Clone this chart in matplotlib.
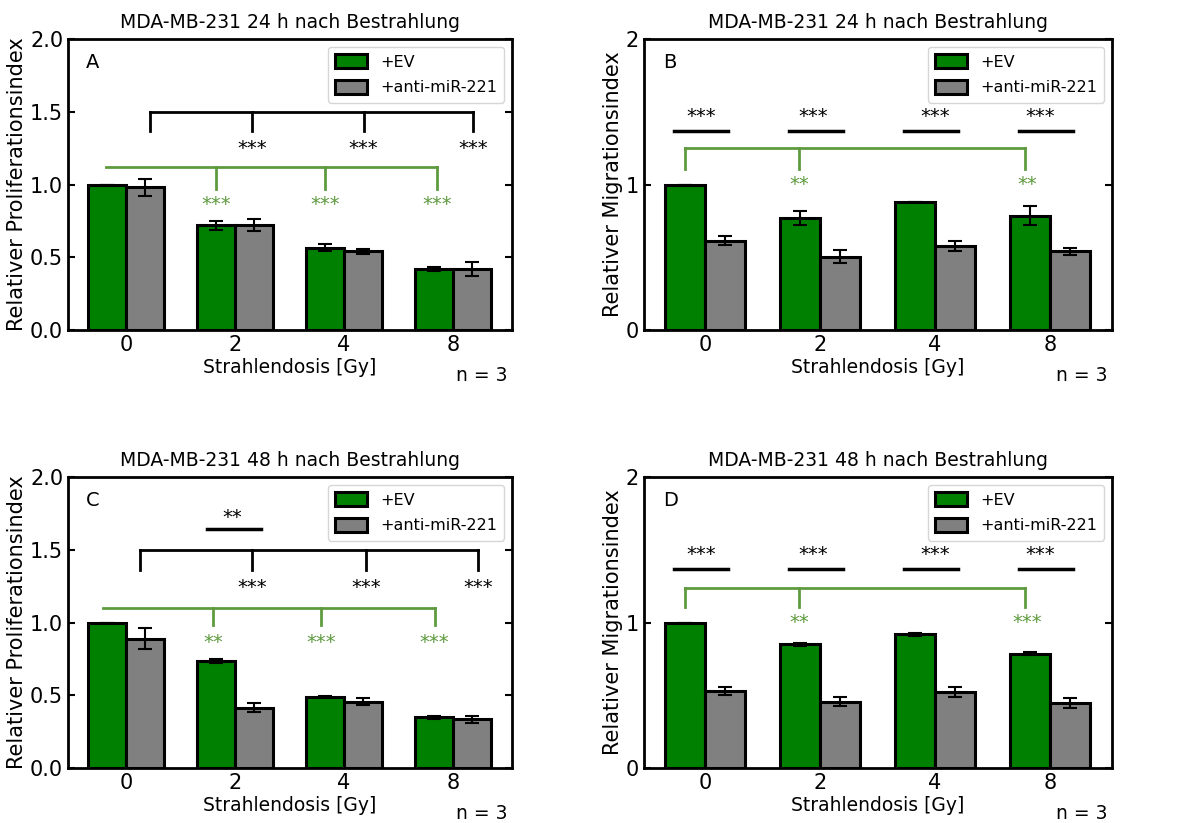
import numpy as np
import matplotlib
matplotlib.use("Agg")
import matplotlib.pyplot as plt

doses = ["0", "2", "4", "8"]

# A: Proliferation 24 h
prolif24_ev = [1.0, 0.72, 0.565, 0.42]
prolif24_ev_err = [0.0, 0.03, 0.025, 0.012]
prolif24_anti = [0.98, 0.72, 0.54, 0.42]
prolif24_anti_err = [0.06, 0.04, 0.015, 0.05]

# B: Migration 24 h
migr24_ev = [1.0, 0.77, 0.88, 0.785]
migr24_ev_err = [0.0, 0.045, 0.003, 0.065]
migr24_anti = [0.615, 0.505, 0.575, 0.54]
migr24_anti_err = [0.03, 0.045, 0.035, 0.025]

# C: Proliferation 48 h
prolif48_ev = [1.0, 0.735, 0.49, 0.35]
prolif48_ev_err = [0.0, 0.015, 0.005, 0.01]
prolif48_anti = [0.89, 0.415, 0.455, 0.335]
prolif48_anti_err = [0.07, 0.03, 0.025, 0.025]

# D: Migration 48 h
migr48_ev = [1.0, 0.85, 0.92, 0.785]
migr48_ev_err = [0.0, 0.01, 0.01, 0.01]
migr48_anti = [0.53, 0.455, 0.52, 0.445]
migr48_anti_err = [0.03, 0.03, 0.035, 0.035]

# significance labels
sig_A_black = ["***", "***", "***"]
sig_A_green = ["***", "***", "***"]
sig_B_black = ["***", "***", "***", "***"]
sig_B_green = ["**", "**"]
sig_C_black = ["***", "***", "***"]
sig_C_green = ["**", "***", "***"]
sig_C_pair = "**"
sig_D_black = ["***", "***", "***", "***"]
sig_D_green = ["**", "***"]

sig_green = "#5e9a3e"
w = 0.35
lw = 2.2

fig = plt.figure(figsize=(11.89, 8.23), dpi=100)
axA = fig.add_axes([0.0572, 0.599, 0.3734, 0.3536])
axB = fig.add_axes([0.5416, 0.599, 0.3936, 0.3536])
axC = fig.add_axes([0.0572, 0.0668, 0.3734, 0.3536])
axD = fig.add_axes([0.5416, 0.0668, 0.3936, 0.3536])

x = np.arange(len(doses))


def draw_bars(ax, ev, ev_err, anti, anti_err, title, ylabel, letter, yticks, ytl):
    ax.bar(x - w / 2, ev, w, yerr=ev_err, color="green", edgecolor="black",
           linewidth=lw, label="+EV", capsize=5,
           error_kw=dict(elinewidth=1.5, capthick=1.5, ecolor="black"))
    ax.bar(x + w / 2, anti, w, yerr=anti_err, color="gray", edgecolor="black",
           linewidth=lw, label="+anti-miR-221", capsize=5,
           error_kw=dict(elinewidth=1.5, capthick=1.5, ecolor="black"))
    ax.set_xlim(-0.53, 3.54)
    ax.set_ylim(0, 2)
    ax.set_xticks(x)
    ax.set_xticklabels(doses)
    ax.set_yticks(yticks)
    ax.set_yticklabels(ytl)
    ax.tick_params(direction="in", right=True, labelsize=15, width=1.5, length=5)
    for s in ax.spines.values():
        s.set_linewidth(2)
    ax.set_title(title, fontsize=13.5, pad=8)
    ax.set_xlabel("Strahlendosis [Gy]", fontsize=13.5, labelpad=2)
    ax.set_ylabel(ylabel, fontsize=15, labelpad=2)
    ax.text(0.04, 0.92, letter, transform=ax.transAxes, fontsize=14, va="center")
    ax.text(0.99, -0.155, "n = 3", transform=ax.transAxes, fontsize=13.5,
            ha="right", va="center")
    leg = ax.legend(loc="upper right", fontsize=11.5, handlelength=2.0,
                    handleheight=0.95, borderpad=0.45, labelspacing=0.65)
    leg.get_frame().set_linewidth(1)


def bracket(ax, xs, y, ydown, color, left_leg=True, lw=2):
    ax.plot([xs[0], xs[-1]], [y, y], color=color, lw=lw)
    legs = xs if left_leg else xs[1:]
    for xx in legs:
        ax.plot([xx, xx], [y, ydown], color=color, lw=lw)


def stars(ax, xs, y, labels, color):
    for xx, lab in zip(xs, labels):
        ax.text(xx, y, lab, color=color, ha="center", va="center", fontsize=14)


# A
draw_bars(axA, prolif24_ev, prolif24_ev_err, prolif24_anti, prolif24_anti_err,
          "MDA-MB-231 24 h nach Bestrahlung", "Relativer Proliferationsindex", "A",
          [0, 0.5, 1.0, 1.5, 2.0], ["0.0", "0.5", "1.0", "1.5", "2.0"])
bracket(axA, [0.22, 1.16, 2.18, 3.18], 1.5, 1.37, "black")
stars(axA, [1.16, 2.18, 3.18], 1.25, sig_A_black, "black")
bracket(axA, [-0.18, 0.83, 1.83, 2.85], 1.12, 0.97, sig_green, left_leg=False)
stars(axA, [0.83, 1.83, 2.85], 0.86, sig_A_green, sig_green)

# B
draw_bars(axB, migr24_ev, migr24_ev_err, migr24_anti, migr24_anti_err,
          "MDA-MB-231 24 h nach Bestrahlung", "Relativer Migrationsindex", "B",
          [0, 1, 2], ["0", "1", "2"])
for i in range(4):
    axB.plot([i - 0.27, i + 0.2], [1.37, 1.37], color="black", lw=2.5)
stars(axB, [-0.03, 0.94, 2.0, 2.92], 1.47, sig_B_black, "black")
bracket(axB, [-0.17, 0.82, 2.78], 1.25, 1.11, sig_green)
stars(axB, [0.82, 2.8], 1.0, sig_B_green, sig_green)

# C
draw_bars(axC, prolif48_ev, prolif48_ev_err, prolif48_anti, prolif48_anti_err,
          "MDA-MB-231 48 h nach Bestrahlung", "Relativer Proliferationsindex", "C",
          [0, 0.5, 1.0, 1.5, 2.0], ["0.0", "0.5", "1.0", "1.5", "2.0"])
axC.plot([0.74, 1.24], [1.64, 1.64], color="black", lw=2.5)
stars(axC, [0.98], 1.72, [sig_C_pair], "black")
bracket(axC, [0.13, 1.16, 2.2, 3.23], 1.5, 1.36, "black")
stars(axC, [1.16, 2.2, 3.23], 1.24, sig_C_black, "black")
bracket(axC, [-0.21, 0.8, 1.79, 2.83], 1.10, 0.98, sig_green, left_leg=False)
stars(axC, [0.8, 1.79, 2.83], 0.86, sig_C_green, sig_green)

# D
draw_bars(axD, migr48_ev, migr48_ev_err, migr48_anti, migr48_anti_err,
          "MDA-MB-231 48 h nach Bestrahlung", "Relativer Migrationsindex", "D",
          [0, 1, 2], ["0", "1", "2"])
for i in range(4):
    axD.plot([i - 0.27, i + 0.2], [1.37, 1.37], color="black", lw=2.5)
stars(axD, [-0.03, 0.94, 2.0, 2.92], 1.47, sig_D_black, "black")
bracket(axD, [-0.17, 0.82, 2.78], 1.24, 1.11, sig_green)
stars(axD, [0.82, 2.8], 1.0, sig_D_green, sig_green)

fig.savefig("out.png", dpi=100)
